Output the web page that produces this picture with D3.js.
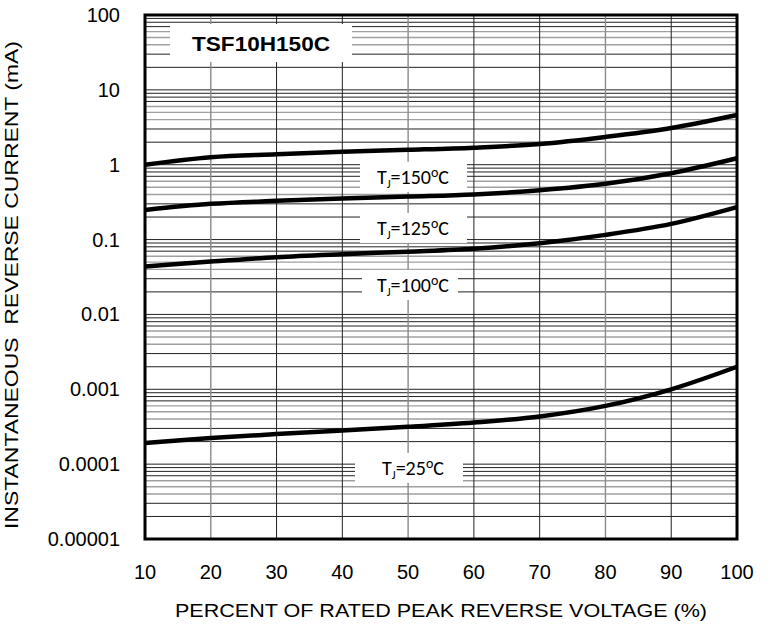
<!DOCTYPE html>
<html>
<head>
<meta charset="utf-8">
<script src="https://cdn.jsdelivr.net/npm/d3@7"></script>
<style>
  body { margin: 0; background: #fff; }
  text { font-family: Arial, "Liberation Sans", sans-serif; fill: #000; }
  .lbl { font-family: Carlito, "Open Sans", sans-serif; }
</style>
</head>
<body>
<div id="chart"></div>
<script>
// data
const voltage = [10, 20, 30, 40, 50, 60, 70, 80, 90, 100];
const tj150 = [1.0, 1.26, 1.38, 1.49, 1.58, 1.69, 1.89, 2.35, 3.1, 4.62];
const tj125 = [0.249, 0.30, 0.329, 0.353, 0.375, 0.4, 0.455, 0.555, 0.77, 1.22];
const tj100 = [0.0436, 0.0508, 0.0582, 0.0638, 0.069, 0.0755, 0.0895, 0.1156, 0.162, 0.271];
const tj25 = [0.000191, 0.000223, 0.000252, 0.000282, 0.000315, 0.00036, 0.000434, 0.0006, 0.001, 0.002];
const yTicks = [0.00001, 0.0001, 0.001, 0.01, 0.1, 1, 10, 100];
const yTickLabels = ['0.00001', '0.0001', '0.001', '0.01', '0.1', '1', '10', '100'];
const xTicks = [10, 20, 30, 40, 50, 60, 70, 80, 90, 100];
const seriesNames = ['150', '125', '100', '25'];

// chart setup
const W = 769, H = 626;
const margin = { top: 15, right: 32, bottom: 87, left: 145 };
const svg = d3.select('#chart').append('svg').attr('width', W).attr('height', H);

let x = d3.scaleLinear().domain([10, 100]).range([margin.left, W - margin.right]);
let y = d3.scaleLog().domain([0.00001, 100]).range([H - margin.bottom, margin.top]);

const grid = svg.append('g');

// horizontal minor + major grid
const hLines = [];
for (let d = -5; d < 2; d++) {
  for (let m = 1; m <= 9; m++) hLines.push({ v: m * Math.pow(10, d), m: m });
}
grid.selectAll('line.h')
  .data(hLines)
  .enter().append('line')
  .attr('x1', x(10)).attr('x2', x(100))
  .attr('y1', d => y(d.v)).attr('y2', d => y(d.v))
  .attr('stroke', d => (d.m >= 4 && d.m <= 6) ? '#a0a0a0' : '#222')
  .attr('stroke-width', d => (d.m >= 4 && d.m <= 6) ? 1.4 : 1);

// vertical grid
grid.selectAll('line.v')
  .data(xTicks.slice(1, -1))
  .enter().append('line')
  .attr('y1', y(100)).attr('y2', y(0.00001))
  .attr('x1', d => x(d)).attr('x2', d => x(d))
  .attr('stroke', d => (d == 20 || d == 50 || d == 80) ? '#8a8a8a' : '#222')
  .attr('stroke-width', d => (d == 20 || d == 50 || d == 80) ? 1.4 : 1);

// white label boxes over the grid
svg.append('rect').attr('x', 170).attr('y', 24).attr('width', 182).attr('height', 38).attr('fill', '#fff');
svg.append('text')
  .attr('x', 261).attr('y', 51)
  .attr('text-anchor', 'middle')
  .attr('textLength', 138).attr('lengthAdjust', 'spacingAndGlyphs')
  .style('font-size', '20px').style('font-weight', 'bold')
  .text('TSF10H150C');

const labelPos = [
  { v: 0.69, x0: 360, w: 107 },
  { v: 0.143, x0: 360, w: 107 },
  { v: 0.0248, x0: 362, w: 96 },
  { v: 0.000089, x0: 355, w: 108 }
];
seriesNames.forEach((name, i) => {
  const p = labelPos[i];
  const cy = y(p.v);
  svg.append('rect').attr('x', p.x0).attr('y', cy - 15).attr('width', p.w).attr('height', 30).attr('fill', '#fff');
  const t = svg.append('text')
    .attr('class', 'lbl')
    .attr('x', 413).attr('y', cy + 7)
    .attr('text-anchor', 'middle')
    .style('font-size', '20px');
  t.append('tspan').text('T');
  t.append('tspan').attr('dy', 4).style('font-size', '12px').text('J');
  t.append('tspan').attr('dy', -4).text('=' + name);
  t.append('tspan').attr('dy', -7).style('font-size', '14px').text('o');
  t.append('tspan').attr('dy', 7).text('C');
});

// curves
const line = d3.line()
  .x((d, i) => x(voltage[i]))
  .y(d => y(d))
  .curve(d3.curveCatmullRom);

svg.selectAll('path.curve')
  .data([tj150, tj125, tj100, tj25])
  .enter().append('path')
  .attr('d', line)
  .attr('fill', 'none')
  .attr('stroke', '#000')
  .attr('stroke-width', 4.5);

// frame
svg.append('rect')
  .attr('x', x(10)).attr('y', y(100))
  .attr('width', x(100) - x(10)).attr('height', y(0.00001) - y(100))
  .attr('fill', 'none').attr('stroke', '#000').attr('stroke-width', 3);

// axes labels
svg.selectAll('text.yt')
  .data(yTicks)
  .enter().append('text')
  .attr('x', 120).attr('y', d => y(d) + 7)
  .attr('text-anchor', 'end')
  .style('font-size', '20px')
  .text((d, i) => yTickLabels[i]);

svg.selectAll('text.xt')
  .data(xTicks)
  .enter().append('text')
  .attr('x', d => x(d)).attr('y', 579)
  .attr('text-anchor', 'middle')
  .style('font-size', '20px')
  .text(d => d);

svg.append('text')
  .attr('x', 441).attr('y', 617)
  .attr('text-anchor', 'middle')
  .attr('textLength', 532).attr('lengthAdjust', 'spacingAndGlyphs')
  .style('font-size', '19px')
  .text('PERCENT OF RATED PEAK REVERSE VOLTAGE (%)');

svg.append('text')
  .attr('transform', 'translate(18, 285) rotate(-90)')
  .attr('text-anchor', 'middle')
  .attr('textLength', 488).attr('lengthAdjust', 'spacingAndGlyphs')
  .style('font-size', '19px')
  .style('white-space', 'pre')
  .text('INSTANTANEOUS  REVERSE CURRENT (mA)');
</script>
</body>
</html>
